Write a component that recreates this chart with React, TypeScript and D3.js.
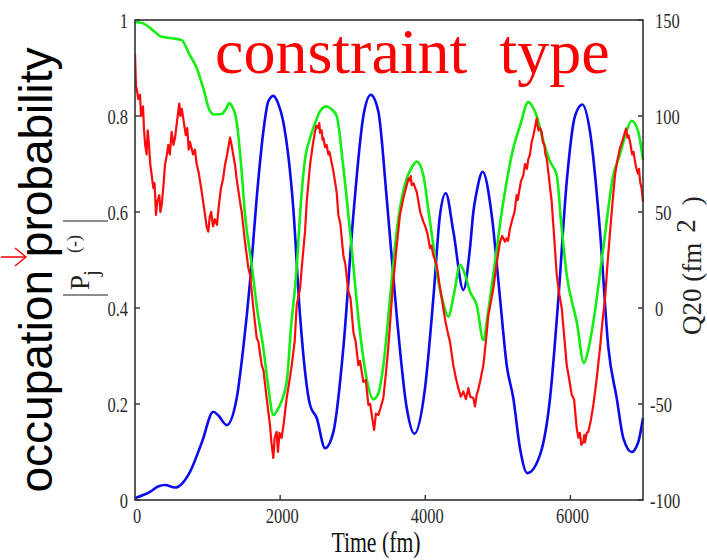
import React from "react";
import * as d3 from "d3";

// ---- data ----
const timeTicks = [0, 2000, 4000, 6000];
const probTicks = [0, 0.2, 0.4, 0.6, 0.8, 1];
const q20Ticks = [-100, -50, 0, 50, 100, 150];

// green: probability (left axis)
const greenSeries: [number, number][] = [
  [0, 0.996], [114, 0.993], [234, 0.98], [368, 0.965], [510, 0.962], [644, 0.958], [744, 0.93], [850, 0.9],
  [937, 0.86], [1034, 0.81], [1102, 0.803], [1195, 0.804], [1254, 0.815], [1300, 0.827], [1337, 0.82],
  [1401, 0.788], [1461, 0.7], [1516, 0.594], [1608, 0.49], [1681, 0.4], [1768, 0.317], [1833, 0.24],
  [1906, 0.177], [1970, 0.19], [2090, 0.246], [2150, 0.36], [2228, 0.483], [2274, 0.594], [2343, 0.71],
  [2412, 0.754], [2494, 0.79], [2549, 0.81], [2642, 0.82], [2700, 0.815], [2779, 0.8], [2866, 0.7],
  [2963, 0.56], [3100, 0.35], [3183, 0.26], [3284, 0.21], [3348, 0.22], [3422, 0.28], [3514, 0.42],
  [3606, 0.56], [3744, 0.67], [3803, 0.69], [3882, 0.705], [3973, 0.677], [4038, 0.61], [4111, 0.53],
  [4175, 0.46], [4248, 0.41], [4317, 0.382], [4396, 0.43], [4479, 0.49], [4547, 0.47], [4616, 0.434],
  [4709, 0.406], [4800, 0.333], [4864, 0.39], [4937, 0.469], [5075, 0.621], [5213, 0.733], [5306, 0.78],
  [5420, 0.829], [5476, 0.82], [5535, 0.8], [5622, 0.75], [5719, 0.705], [5811, 0.677], [5871, 0.58],
  [5949, 0.469], [6087, 0.371], [6187, 0.285], [6242, 0.31], [6316, 0.371], [6453, 0.525], [6591, 0.677],
  [6683, 0.72], [6766, 0.765], [6844, 0.79], [6935, 0.767], [7000, 0.708],
];

// blue: Q20 (right axis)
const blueSeries: [number, number][] = [
  [0, -99], [207, -95.8], [317, -93], [413, -92.2], [551, -93.5], [758, -85.3], [923, -69.8], [1079, -54],
  [1150, -56], [1263, -61], [1401, -47], [1492, -20.8], [1585, 13.8], [1677, 57.3], [1768, 91.8],
  [1836, 107.5], [1906, 110.5], [1975, 106.3], [2043, 97], [2181, 52], [2274, -3.8], [2412, -50.5],
  [2504, -57.3], [2619, -73], [2734, -64.5], [2871, -20.8], [3009, 48.5], [3147, 100], [3249, 111],
  [3353, 102.3], [3468, 57.3], [3606, -3.8], [3744, -52], [3849, -65.5], [3996, -41.8], [4111, 5],
  [4203, 48.5], [4282, 59.8], [4387, 39.8], [4525, 9.4], [4616, 31.3], [4662, 50], [4708, 60.5],
  [4791, 71], [4915, 48.5], [5030, 5], [5122, -29.8], [5213, -47], [5305, -73], [5406, -86],
  [5581, -76.5], [5719, -47], [5834, 5], [5949, 65.8], [6063, 100], [6164, 106], [6270, 91.8],
  [6408, 39.8], [6523, -20.8], [6638, -47], [6729, -67.8], [6844, -75], [6935, -69.8], [7000, -57.3],
];

// red: probability (left axis), noisy
const redSeries: [number, number][] = [
  [0, 0.93], [14, 0.86], [23, 0.858], [45, 0.835], [69, 0.844], [83, 0.8], [110, 0.82], [125, 0.77], [140, 0.74],
  [160, 0.72], [175, 0.77], [190, 0.746], [210, 0.7], [230, 0.677], [253, 0.65], [270, 0.66], [289, 0.594],
  [305, 0.62], [335, 0.635], [350, 0.6], [368, 0.615], [395, 0.66], [413, 0.698], [440, 0.72], [459, 0.74],
  [480, 0.72], [505, 0.767], [530, 0.74], [551, 0.754], [580, 0.79], [610, 0.826], [625, 0.8], [645, 0.815],
  [680, 0.78], [700, 0.76], [720, 0.775], [740, 0.73], [758, 0.746], [800, 0.72], [825, 0.73], [850, 0.7], [880, 0.68],
  [919, 0.642], [950, 0.61], [987, 0.57], [1010, 0.559], [1030, 0.59], [1050, 0.6], [1075, 0.57],
  [1100, 0.585], [1130, 0.573], [1160, 0.62], [1185, 0.65], [1215, 0.67], [1240, 0.698], [1270, 0.72],
  [1309, 0.755], [1330, 0.74], [1378, 0.698], [1400, 0.67], [1447, 0.621], [1470, 0.6], [1516, 0.538],
  [1562, 0.483], [1585, 0.47], [1631, 0.4], [1677, 0.3375], [1700, 0.33], [1746, 0.281], [1770, 0.27],
  [1814, 0.2125], [1860, 0.156], [1880, 0.12], [1906, 0.0875], [1925, 0.13], [1952, 0.142], [1970, 0.1],
  [1990, 0.14], [2020, 0.129], [2050, 0.16], [2090, 0.2125], [2120, 0.24], [2160, 0.281], [2200, 0.33],
  [2228, 0.406], [2274, 0.44], [2297, 0.483], [2343, 0.559], [2366, 0.621], [2412, 0.698], [2450, 0.74],
  [2480, 0.767], [2500, 0.78], [2526, 0.775], [2540, 0.785], [2550, 0.765], [2572, 0.77], [2585, 0.75],
  [2596, 0.754], [2620, 0.735], [2640, 0.74], [2664, 0.72], [2680, 0.725], [2700, 0.71], [2720, 0.695],
  [2734, 0.684], [2760, 0.66], [2780, 0.64], [2802, 0.594], [2830, 0.575], [2871, 0.51], [2900, 0.49],
  [2940, 0.434], [2970, 0.42], [3009, 0.35], [3040, 0.33], [3078, 0.281], [3100, 0.29], [3147, 0.246],
  [3180, 0.25], [3216, 0.198], [3240, 0.2], [3270, 0.17], [3295, 0.146], [3320, 0.18], [3353, 0.177],
  [3380, 0.19], [3422, 0.2125], [3455, 0.26], [3490, 0.317], [3525, 0.39], [3559, 0.455], [3600, 0.52],
  [3651, 0.594], [3700, 0.63], [3744, 0.656], [3770, 0.67], [3790, 0.665], [3800, 0.675], [3813, 0.656],
  [3840, 0.66], [3860, 0.65], [3882, 0.642], [3930, 0.6], [3973, 0.58], [4000, 0.57], [4030, 0.555],
  [4065, 0.525], [4085, 0.53], [4111, 0.51], [4157, 0.49], [4200, 0.445], [4248, 0.4], [4280, 0.37],
  [4317, 0.344], [4340, 0.33], [4386, 0.281], [4420, 0.255], [4455, 0.233], [4490, 0.215], [4525, 0.226],
  [4560, 0.21], [4594, 0.233], [4620, 0.215], [4662, 0.2125], [4685, 0.195], [4710, 0.22], [4730, 0.23],
  [4754, 0.246], [4800, 0.281], [4835, 0.33], [4869, 0.385], [4900, 0.41], [4937, 0.44], [4980, 0.49],
  [5030, 0.538], [5060, 0.55], [5099, 0.538], [5120, 0.545], [5140, 0.54], [5168, 0.566], [5200, 0.585],
  [5230, 0.6], [5259, 0.635], [5275, 0.625], [5290, 0.64], [5320, 0.665], [5351, 0.677], [5375, 0.7],
  [5400, 0.69], [5420, 0.71], [5443, 0.72], [5465, 0.745], [5490, 0.76], [5510, 0.775], [5535, 0.795],
  [5548, 0.78], [5560, 0.77], [5580, 0.775], [5604, 0.767], [5620, 0.745], [5640, 0.74], [5655, 0.72],
  [5673, 0.712], [5705, 0.67], [5742, 0.621], [5775, 0.55], [5811, 0.469], [5845, 0.43], [5880, 0.4],
  [5915, 0.34], [5949, 0.281], [5985, 0.25], [6018, 0.219], [6050, 0.21], [6087, 0.149], [6110, 0.13],
  [6130, 0.14], [6150, 0.115], [6178, 0.121], [6190, 0.135], [6200, 0.12], [6225, 0.14], [6247, 0.142],
  [6280, 0.165], [6316, 0.198], [6360, 0.25], [6408, 0.317], [6440, 0.37], [6477, 0.42], [6510, 0.49],
  [6546, 0.559], [6580, 0.62], [6614, 0.677], [6650, 0.71], [6683, 0.733], [6720, 0.75], [6766, 0.774],
  [6785, 0.755], [6800, 0.76], [6822, 0.746], [6840, 0.73], [6850, 0.72], [6870, 0.725], [6890, 0.705],
  [6910, 0.69], [6930, 0.68], [6945, 0.69], [6960, 0.663], [6980, 0.65], [7000, 0.621],
];

const W = 707;
const H = 560;
const PL = 135, PR = 643, PT = 20, PB = 500;
const SERIF = "'Liberation Serif', 'Times New Roman', serif";
const SANS = "'Liberation Sans', Arial, sans-serif";

function CText({ x, y, anchor, size, children, fill = "#2a2a2a" }: any) {
  return (
    <text transform={`translate(${x},${y}) scale(0.75,1)`} textAnchor={anchor} fontSize={size} fontFamily={SERIF} fill={fill}>
      {children}
    </text>
  );
}

export default function App() {
  const x = d3.scaleLinear().domain([0, 7000]).range([PL, PR]);
  const yL = d3.scaleLinear().domain([0, 1]).range([PB, PT]);
  const yR = d3.scaleLinear().domain([-100, 150]).range([PB, PT]);

  const lineL = d3.line<[number, number]>().x((d) => x(d[0])).y((d) => yL(d[1])).curve(d3.curveMonotoneX);
  const lineR = d3.line<[number, number]>().x((d) => x(d[0])).y((d) => yR(d[1])).curve(d3.curveMonotoneX);
  const lineRed = d3.line<[number, number]>().x((d) => x(d[0])).y((d) => yL(d[1]));

  const fmtP = (v: number) => (v === 0 ? "0" : v === 1 ? "1" : v.toFixed(1));

  return (
    <svg width={W} height={H} style={{ position: "absolute", left: 0, top: 0, background: "#fff" }}>
      <rect x={0} y={0} width={W} height={H} fill="#fff" />
      <defs>
        <clipPath id="clip">
          <rect x={PL} y={PT - 2} width={PR - PL + 2} height={PB - PT + 2} />
        </clipPath>
      </defs>
      {/* curves */}
      <g clipPath="url(#clip)">
        <path d={lineR(blueSeries) || ""} fill="none" stroke="#0a0aee" strokeWidth={2.6} strokeLinejoin="round" />
        <path d={lineL(greenSeries) || ""} fill="none" stroke="#11ee11" strokeWidth={2.6} strokeLinejoin="round" />
        <path d={lineRed(redSeries) || ""} fill="none" stroke="#ff0a0a" strokeWidth={2.2} strokeLinejoin="round" />
      </g>
      {/* frame */}
      <rect x={PL} y={PT} width={PR - PL} height={PB - PT} fill="none" stroke="#333" strokeWidth={1.6} />
      {/* left ticks */}
      {probTicks.map((v) => (
        <g key={"l" + v}>
          <line x1={PL} x2={PL + 5} y1={yL(v)} y2={yL(v)} stroke="#333" strokeWidth={1.4} />
          <CText x={128} y={yL(v) + 7.5} anchor="end" size={22}>{fmtP(v)}</CText>
        </g>
      ))}
      {/* right ticks */}
      {q20Ticks.map((v) => (
        <g key={"r" + v}>
          <line x1={PR - 5} x2={PR} y1={yR(v)} y2={yR(v)} stroke="#333" strokeWidth={1.4} />
          <CText x={v < 0 ? 650 : 655} y={yR(v) + 7.5} anchor="start" size={22}>{String(v)}</CText>
        </g>
      ))}
      {/* bottom ticks */}
      {timeTicks.map((v) => (
        <g key={"b" + v}>
          {v > 0 && <line x1={x(v)} x2={x(v)} y1={PB} y2={PB - 5} stroke="#333" strokeWidth={1.4} />}
          <CText x={x(v) + 2} y={523} anchor="middle" size={22}>{String(v)}</CText>
        </g>
      ))}
      {/* axis titles */}
      <CText x={376} y={552} anchor="middle" size={29} fill="#111">Time (fm)</CText>
      <text transform="translate(701,335) rotate(-90)" fontSize={27} fontFamily={SERIF} fill="#222">
        <tspan>Q20 (fm</tspan>
        <tspan dx={10} dy={-6}>2</tspan>
        <tspan dx={14} dy={6}>)</tspan>
      </text>
      {/* |P_j^(-)| */}
      <line x1={63} x2={108} y1={221} y2={221} stroke="#666" strokeWidth={1.5} />
      <line x1={63} x2={108} y1={295} y2={295} stroke="#666" strokeWidth={1.5} />
      <text transform="translate(89,290) rotate(-90)" fontSize={27} fontFamily={SERIF} fill="#222">P</text>
      <text transform="translate(98,276) rotate(-90)" fontSize={22} fontFamily={SERIF} fill="#222">j</text>
      <text transform="translate(80,253) rotate(-90)" fontSize={18} fontFamily={SERIF} fill="#222">(-)</text>
      {/* big left label */}
      <text transform="translate(52,270) rotate(-90)" textAnchor="middle" fontSize={46} fontFamily={SANS} fill="#000">
        occupation probability
      </text>
      <path d="M1,257 L26,257 M15,248 L26,257 L15,266" fill="none" stroke="#ff0000" strokeWidth={1.4} />
      {/* title */}
      <text x={215} y={73} fontSize={64} fontFamily={SERIF} fill="#ff0000" style={{ whiteSpace: "pre" }}>
        constraint  type
      </text>
    </svg>
  );
}
